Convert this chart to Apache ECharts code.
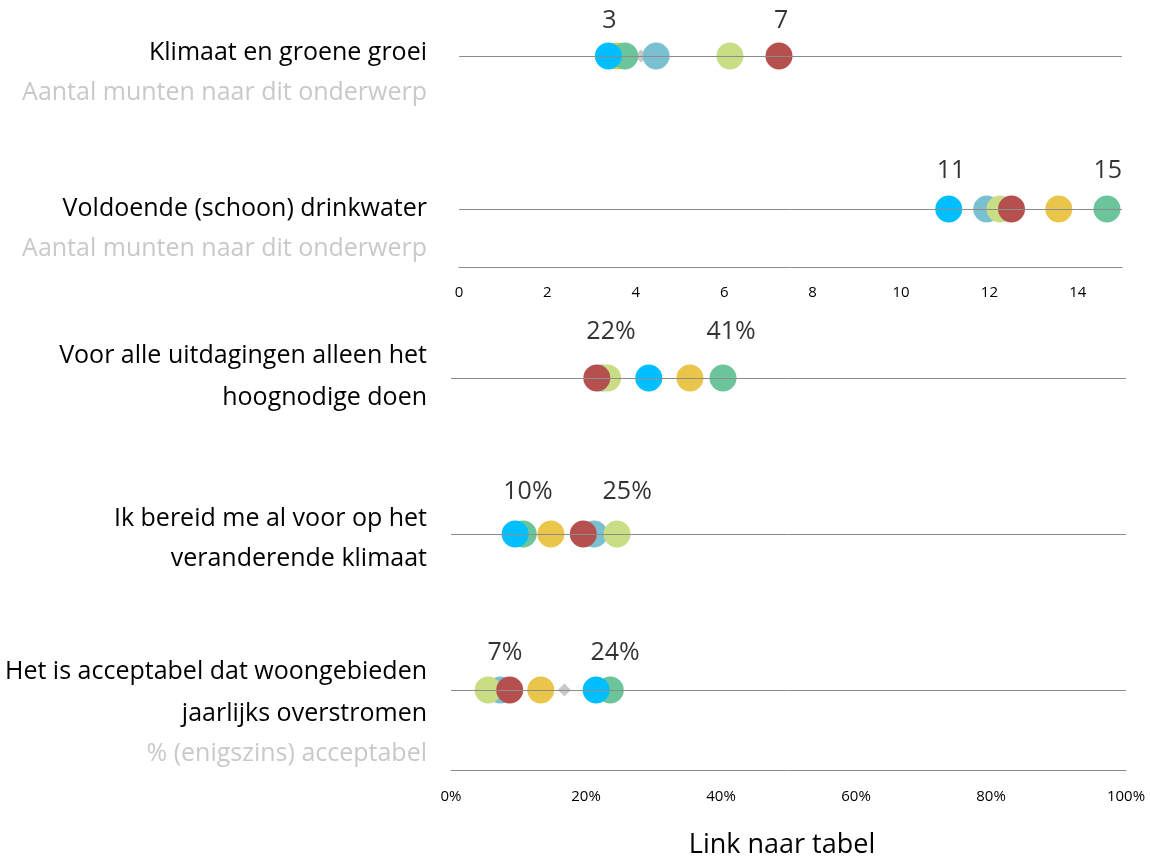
<!DOCTYPE html>
<html>
<head>
<meta charset="utf-8">
<script src="https://cdn.jsdelivr.net/npm/echarts@6/dist/echarts.min.js"></script>
<style>
  html, body { margin: 0; padding: 0; background: #fff; }
  #chart { width: 1150px; height: 857px; }
</style>
</head>
<body>
<div id="chart"></div>
<script>
// rijen: 0-1 = aantal munten, 2-4 = percentage
const rowTitles = [
  ["Klimaat en groene groei"],
  ["Voldoende (schoon) drinkwater"],
  ["Voor alle uitdagingen alleen het", "hoognodige doen"],
  ["Ik bereid me al voor op het", "veranderende klimaat"],
  ["Het is acceptabel dat woongebieden", "jaarlijks overstromen"]
];
const subTitles = ["Aantal munten naar dit onderwerp", "Aantal munten naar dit onderwerp", "", "", "% (enigszins) acceptabel"];

// waarden per groep (kleur), een waarde per rij
const grijs      = [4.12, 12.2, 29.0, 20.5, 16.8];
const geel       = [3.58, 13.57, 35.4, 14.8, 13.3];
const groen      = [3.75, 14.66, 40.3, 10.7, 23.6];
const lichtblauw = [4.46, 11.94, 22.4, 21.2, 7.3];
const lichtgroen = [6.13, 12.24, 23.2, 24.6, 5.5];
const rood       = [7.24, 12.5, 21.6, 19.6, 8.7];
const blauw      = [3.38, 11.08, 29.3, 9.5, 21.5];

// labels boven de stippen
const labelText = [["3", "7"], ["11", "15"], ["22%", "41%"], ["10%", "25%"], ["7%", "24%"]];
const labelAt   = [[3.40, 7.29], [11.13, 14.68], [23.7, 41.5], [11.4, 26.1], [8.0, 24.3]];

const countTicks = [0, 2, 4, 6, 8, 10, 12, 14];
const pctTicks = [0, 20, 40, 60, 80, 100];

const groups = [
  { name: "grijs", data: grijs, color: "#c8c8c8", symbol: "diamond", size: 13 },
  { name: "geel", data: geel, color: "#e9c549" },
  { name: "groen", data: groen, color: "#6cc49a" },
  { name: "lichtblauw", data: lichtblauw, color: "#7ac0d0" },
  { name: "lichtgroen", data: lichtgroen, color: "#c9dd85" },
  { name: "rood", data: rood, color: "#b5504f" },
  { name: "blauw", data: blauw, color: "#00bfff" }
];

const FONT = "Open Sans";
// y-posities van de teksten links (midden van de regel)
const titleY = [[53], [209], [356, 398], [519, 559], [672, 714]];
const subY = [93, 249, 0, 0, 754];
const labelLift = [35, 38, 46, 42, 37];

// rij -> [grid, positie binnen grid]
function place(i) {
  return i < 2 ? [0, i] : [1, i - 2];
}

let chart = echarts.init(document.getElementById("chart"));

let series = [];
// lijnen per rij
[0, 1].forEach(g => {
  series.push({
    type: "scatter",
    xAxisIndex: g,
    yAxisIndex: g,
    data: [],
    silent: true,
    markLine: {
      silent: true,
      symbol: "none",
      label: { show: false },
      lineStyle: { color: "#8c8c8c", width: 1, type: "solid" },
      data: (g == 0 ? [0, 1] : [0, 1, 2]).map(v => ({ yAxis: v }))
    }
  });
});

groups.forEach(grp => {
  [0, 1].forEach(g => {
    let pts = [];
    grp.data.forEach((v, i) => {
      let p = place(i);
      if (p[0] == g) pts.push([v, p[1]]);
    });
    series.push({
      name: grp.name,
      type: "scatter",
      xAxisIndex: g,
      yAxisIndex: g,
      symbol: grp.symbol || "circle",
      symbolSize: grp.size || 27,
      itemStyle: { color: grp.color, opacity: 1 },
      silent: true,
      data: pts
    });
  });
});

// label series
[0, 1].forEach(g => {
  let pts = [];
  labelText.forEach((txt, i) => {
    let p = place(i);
    if (p[0] != g) return;
    txt.forEach((t, k) => {
      pts.push({
        value: [labelAt[i][k], p[1]],
        label: { formatter: t, offset: [0, -labelLift[i]] }
      });
    });
  });
  series.push({
    type: "scatter",
    xAxisIndex: g,
    yAxisIndex: g,
    symbolSize: 0,
    silent: true,
    label: {
      show: true,
      position: "inside",
      color: "#000",
      fontFamily: FONT,
      fontSize: 25
    },
    data: pts
  });
});

// tekst links
let graphics = [];
function addText(t, y, color) {
  graphics.push({
    type: "text", x: 427, y: y,
    style: { text: t, fill: color, font: "25px '" + FONT + "'", align: "right", verticalAlign: "middle" }
  });
}
rowTitles.forEach((lines, i) => {
  lines.forEach((t, k) => addText(t, titleY[i][k], "#000"));
  if (subTitles[i]) addText(subTitles[i], subY[i], "#c9c9c9");
});
graphics.push({
  type: "text", x: 782, y: 845,
  style: { text: "Link naar tabel", fill: "#000", font: "27px '" + FONT + "'", align: "center", verticalAlign: "middle" }
});

chart.setOption({
  animation: false,
  grid: [
    { left: 459, width: 663, top: 17.75, height: 249.4 },
    { left: 451, width: 675, top: 300, height: 470 }
  ],
  xAxis: [
    {
      gridIndex: 0, type: "value", min: countTicks[0], max: 15, interval: 2,
      splitLine: { show: false },
      axisTick: { show: false },
      axisLine: { show: true, onZero: false, lineStyle: { color: "#8c8c8c", width: 1 } },
      axisLabel: {
        color: "#000", fontFamily: FONT, fontSize: 15, margin: 18,
        showMaxLabel: false,
        formatter: v => (countTicks.indexOf(v) >= 0 ? String(v) : "")
      }
    },
    {
      gridIndex: 1, type: "value", min: pctTicks[0], max: 100, interval: 20,
      splitLine: { show: false },
      axisTick: { show: false },
      axisLine: { show: true, onZero: false, lineStyle: { color: "#8c8c8c", width: 1 } },
      axisLabel: {
        color: "#000", fontFamily: FONT, fontSize: 15, margin: 19,
        formatter: v => (pctTicks.indexOf(v) >= 0 ? v + "%" : "")
      }
    }
  ],
  yAxis: [
    { gridIndex: 0, type: "value", inverse: true, min: -0.25, max: 1.38, show: false },
    { gridIndex: 1, type: "value", inverse: true, min: -0.5, max: 2.513, show: false }
  ],
  graphic: graphics,
  series: series
});
</script>
</body>
</html>
